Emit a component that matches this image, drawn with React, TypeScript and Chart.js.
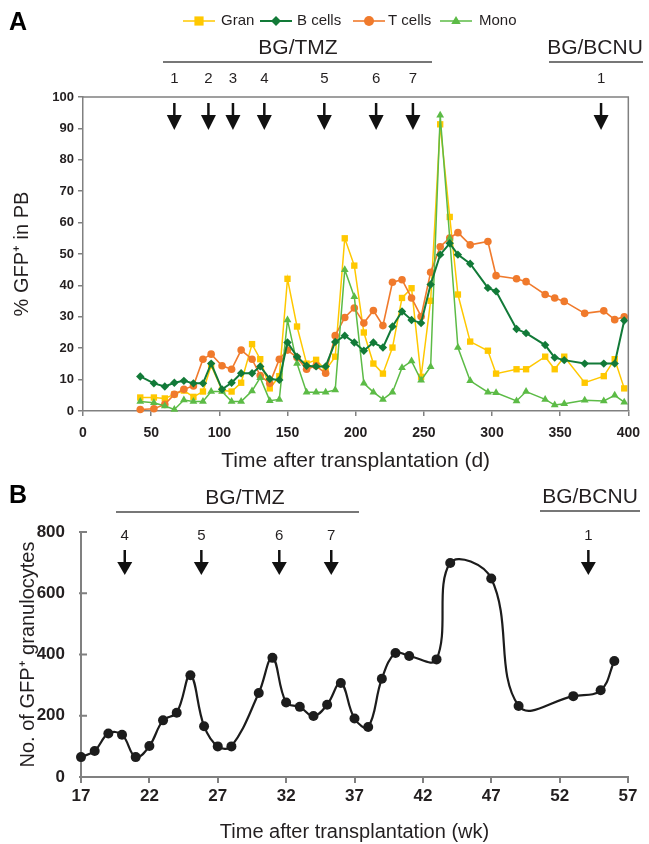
import React, { useEffect, useRef } from 'react';
import { Chart, registerables } from 'chart.js';

Chart.register(...registerables);

const FONT = '"Liberation Sans", Arial, Helvetica, sans-serif';
const TEXT = '#231f20';
const AXIS = '#808080';

// ---------- Panel A data ----------
const days = [42, 52, 60, 67, 74, 81, 88, 94, 102, 109, 116, 124, 130, 137, 144, 150, 157, 164, 171, 178, 185, 192, 199, 206, 213, 220, 227, 234, 241, 248, 255, 262, 269, 275, 284, 297, 303, 318, 325, 339, 346, 353, 368, 382, 390, 397];
const gran = [4.3, 4.3, 4.0, 5.3, 6.5, 4.5, 6.2, 14.5, 6.6, 6.2, 9.0, 21.3, 16.5, 7.2, 11.1, 42.1, 26.9, 15.1, 16.3, 13.0, 17.3, 55.0, 46.3, 25.0, 15.1, 11.9, 20.2, 36.0, 39.1, 10.9, 35.1, 91.3, 61.8, 37.1, 22.1, 19.2, 11.9, 13.3, 13.3, 17.3, 13.3, 17.3, 9.0, 11.1, 16.5, 7.2];
const bCells = [11.0, 8.8, 7.8, 9.0, 9.6, 8.8, 8.8, 15.1, 6.9, 9.0, 12.0, 12.0, 14.2, 10.2, 9.9, 21.8, 17.3, 14.4, 14.2, 14.2, 22.0, 24.0, 21.8, 19.2, 21.8, 20.2, 26.9, 31.7, 29.0, 28.0, 40.3, 49.8, 53.4, 49.8, 46.9, 39.2, 38.1, 26.1, 24.8, 21.0, 17.0, 16.2, 15.1, 15.1, 15.1, 28.8];
const tCells = [0.5, 0.7, 2.1, 5.3, 6.9, 8.0, 16.5, 18.1, 14.4, 13.3, 19.4, 16.5, 11.3, 8.8, 16.5, 19.4, 17.0, 13.3, 14.4, 12.0, 24.0, 29.8, 32.8, 28.0, 32.0, 27.2, 41.0, 41.8, 36.0, 30.1, 44.2, 52.3, 55.1, 56.8, 52.9, 54.0, 43.1, 42.1, 41.2, 37.1, 36.0, 34.9, 31.1, 31.9, 29.1, 30.0];
const mono = [3.0, 2.6, 1.6, 0.5, 3.5, 3.0, 3.0, 6.2, 6.2, 3.0, 3.0, 6.4, 10.6, 3.3, 3.7, 29.0, 15.1, 6.0, 6.0, 6.0, 6.7, 45.0, 36.4, 8.8, 6.0, 3.7, 6.0, 13.8, 15.9, 9.8, 14.1, 94.2, 55.0, 20.2, 9.6, 6.0, 5.8, 3.2, 6.2, 3.7, 1.9, 2.3, 3.4, 3.2, 5.0, 2.8];
const dayTicks = [0, 50, 100, 150, 200, 250, 300, 350, 400];
const pctTicks = [0, 10, 20, 30, 40, 50, 60, 70, 80, 90, 100];
const tmzDays = [67, 92, 110, 133, 177, 215, 242];
const tmzDayLabels = ['1', '2', '3', '4', '5', '6', '7'];
const bcnuDays = [380];
const bcnuDayLabels = ['1'];

// ---------- Panel B data ----------
const weeks = [17, 18, 19, 20, 21, 22, 23, 24, 25, 26, 27, 28, 30, 31, 32, 33, 34, 35, 36, 37, 38, 39, 40, 41, 43, 44, 47, 49, 53, 55, 56];
const granCounts = [65, 85, 142, 138, 65, 101, 185, 210, 332, 166, 100, 100, 274, 389, 243, 229, 199, 236, 307, 191, 163, 321, 405, 395, 384, 699, 648, 232, 264, 283, 379];
const weekTicks = [17, 22, 27, 32, 37, 42, 47, 52, 57];
const countTicks = [0, 200, 400, 600, 800];
const tmzWeeks = [20.2, 25.8, 31.5, 35.3];
const tmzWeekLabels = ['4', '5', '6', '7'];
const bcnuWeeks = [54.1];
const bcnuWeekLabels = ['1'];

const series = [
  { label: 'Gran', data: gran, color: '#FFC800', style: 'rect', r: 4.5, w: 1.5, order: 3 },
  { label: 'B cells', data: bCells, color: '#127A38', style: 'rectRot', r: 4.2, w: 2, order: 0 },
  { label: 'T cells', data: tCells, color: '#F07A2C', style: 'circle', r: 3.8, w: 1.6, order: 2 },
  { label: 'Mono', data: mono, color: '#5CBB46', style: 'triangle', r: 4.5, w: 1.5, order: 1 },
];
const legendMarkerX = [199, 276, 369, 456];
const legendTextX = [221, 297, 388, 479];

function drawMarker(ctx: CanvasRenderingContext2D, style: string, x: number, y: number, r: number) {
  ctx.beginPath();
  if (style === 'rect') {
    const s = r * Math.SQRT1_2;
    ctx.rect(x - s, y - s, 2 * s, 2 * s);
  } else if (style === 'rectRot') {
    ctx.moveTo(x, y - r);
    ctx.lineTo(x + r, y);
    ctx.lineTo(x, y + r);
    ctx.lineTo(x - r, y);
    ctx.closePath();
  } else if (style === 'triangle') {
    ctx.moveTo(x, y - r);
    ctx.lineTo(x + r * 0.95, y + r * 0.6);
    ctx.lineTo(x - r * 0.95, y + r * 0.6);
    ctx.closePath();
  } else {
    ctx.arc(x, y, r, 0, Math.PI * 2);
  }
  ctx.fill();
}

function drawArrow(ctx: CanvasRenderingContext2D, x: number, yTop: number, yHead: number, yBottom: number, halfW: number) {
  ctx.strokeStyle = '#111';
  ctx.fillStyle = '#111';
  ctx.lineWidth = 2.5;
  ctx.beginPath();
  ctx.moveTo(x, yTop);
  ctx.lineTo(x, yHead + 1);
  ctx.stroke();
  ctx.beginPath();
  ctx.moveTo(x - halfW, yHead);
  ctx.lineTo(x + halfW, yHead);
  ctx.lineTo(x, yBottom);
  ctx.closePath();
  ctx.fill();
}

const annotA = {
  id: 'annotA',
  afterDraw(chart: any) {
    const { ctx, chartArea: ca, scales } = chart;
    const xs = scales.x;
    ctx.save();
    // frame (top and right)
    ctx.strokeStyle = AXIS;
    ctx.lineWidth = 1.5;
    ctx.beginPath();
    ctx.moveTo(ca.left, ca.top);
    ctx.lineTo(ca.right, ca.top);
    ctx.lineTo(ca.right, ca.bottom);
    ctx.stroke();
    // panel letter
    ctx.fillStyle = '#000';
    ctx.font = `bold 25px ${FONT}`;
    ctx.textAlign = 'left';
    ctx.textBaseline = 'middle';
    ctx.fillText('A', 9, 23);
    // legend
    ctx.font = `15px ${FONT}`;
    series.forEach((s, i) => {
      const mx = legendMarkerX[i];
      ctx.strokeStyle = s.color;
      ctx.lineWidth = s.w;
      ctx.beginPath();
      ctx.moveTo(mx - 16, 21);
      ctx.lineTo(mx + 16, 21);
      ctx.stroke();
      ctx.fillStyle = s.color;
      drawMarker(ctx, s.style, mx, 21, s.style === 'rect' ? 6.5 : 5);
      ctx.fillStyle = TEXT;
      ctx.fillText(s.label, legendTextX[i], 21);
    });
    // treatment groups
    ctx.fillStyle = TEXT;
    ctx.font = `21px ${FONT}`;
    ctx.textAlign = 'center';
    ctx.fillText('BG/TMZ', 298, 48);
    ctx.fillText('BG/BCNU', 595, 48);
    ctx.strokeStyle = '#777';
    ctx.lineWidth = 2;
    ctx.beginPath();
    ctx.moveTo(163, 62);
    ctx.lineTo(432, 62);
    ctx.moveTo(549, 62);
    ctx.lineTo(643, 62);
    ctx.stroke();
    ctx.font = `15px ${FONT}`;
    const all = tmzDays.map((d, i) => [d, tmzDayLabels[i]] as [number, string])
      .concat(bcnuDays.map((d, i) => [d, bcnuDayLabels[i]] as [number, string]));
    all.forEach(([d, lab]) => {
      const px = xs.getPixelForValue(d);
      ctx.fillStyle = TEXT;
      ctx.fillText(lab, px, 79);
      drawArrow(ctx, px, 103, 115, 130, 7.5);
    });
    ctx.restore();
  },
};

const annotB = {
  id: 'annotB',
  afterDraw(chart: any) {
    const { ctx, chartArea: ca, scales } = chart;
    const xs = scales.x;
    const ys = scales.y;
    ctx.save();
    // inside y ticks
    ctx.strokeStyle = AXIS;
    ctx.lineWidth = 2;
    ctx.beginPath();
    countTicks.forEach((v) => {
      const py = ys.getPixelForValue(v);
      ctx.moveTo(ca.left - 2, py);
      ctx.lineTo(ca.left + 6, py);
    });
    ctx.stroke();
    ctx.fillStyle = '#000';
    ctx.font = `bold 25px ${FONT}`;
    ctx.textAlign = 'left';
    ctx.textBaseline = 'middle';
    ctx.fillText('B', 9, 21);
    ctx.fillStyle = TEXT;
    ctx.font = `21px ${FONT}`;
    ctx.textAlign = 'center';
    ctx.fillText('BG/TMZ', 245, 23);
    ctx.fillText('BG/BCNU', 590, 22);
    ctx.strokeStyle = '#777';
    ctx.lineWidth = 2;
    ctx.beginPath();
    ctx.moveTo(116, 37);
    ctx.lineTo(359, 37);
    ctx.moveTo(540, 36);
    ctx.lineTo(640, 36);
    ctx.stroke();
    ctx.font = `15px ${FONT}`;
    const all = tmzWeeks.map((w, i) => [w, tmzWeekLabels[i]] as [number, string])
      .concat(bcnuWeeks.map((w, i) => [w, bcnuWeekLabels[i]] as [number, string]));
    all.forEach(([w, lab]) => {
      const px = xs.getPixelForValue(w);
      ctx.fillStyle = TEXT;
      ctx.fillText(lab, px, 61);
      drawArrow(ctx, px, 75, 87, 100, 7.5);
    });
    ctx.restore();
  },
};

export default function App() {
  const refA = useRef<HTMLCanvasElement>(null);
  const refB = useRef<HTMLCanvasElement>(null);

  useEffect(() => {
    const chartA = new Chart(refA.current as HTMLCanvasElement, {
      type: 'line',
      data: {
        datasets: series.map((s) => ({
          label: s.label,
          data: days.map((d, i) => ({ x: d, y: s.data[i] })),
          borderColor: s.color,
          backgroundColor: s.color,
          borderWidth: s.w,
          pointStyle: s.style as any,
          pointRadius: s.r,
          pointBorderWidth: 0,
          pointBackgroundColor: s.color,
          tension: 0,
          order: s.order,
          clip: false as any,
        })),
      },
      options: {
        responsive: false,
        maintainAspectRatio: false,
        animation: false,
        layout: { padding: { left: 0, top: 97, right: 18, bottom: 1 } },
        plugins: { legend: { display: false }, tooltip: { enabled: false } },
        scales: {
          x: {
            type: 'linear',
            min: 0,
            max: 400,
            afterBuildTicks: (sc: any) => { sc.ticks = dayTicks.map((v) => ({ value: v })); },
            afterFit: (sc: any) => { sc.height = 63; },
            grid: { display: true, drawOnChartArea: false, drawTicks: true, tickLength: 5, color: AXIS, lineWidth: 1.5 },
            border: { display: true, color: AXIS, width: 1.5 },
            ticks: { font: { family: FONT, size: 14, weight: 'bold' }, color: TEXT, padding: 9, maxRotation: 0 },
            title: { display: true, text: 'Time after transplantation (d)', font: { family: FONT, size: 21 }, color: TEXT, padding: { top: 0, bottom: 0 } },
          },
          y: {
            type: 'linear',
            min: 0,
            max: 100,
            afterBuildTicks: (sc: any) => { sc.ticks = pctTicks.map((v) => ({ value: v })); },
            afterFit: (sc: any) => { sc.width = 83; },
            grid: { display: true, drawOnChartArea: false, drawTicks: true, tickLength: 5, color: AXIS, lineWidth: 1.5 },
            border: { display: true, color: AXIS, width: 1.5 },
            ticks: { font: { family: FONT, size: 13, weight: 'bold' }, color: TEXT, padding: 4 },
            title: { display: true, text: '% GFP⁺ in PB', font: { family: FONT, size: 20 }, color: TEXT, padding: { top: 10, bottom: 0 } },
          },
        },
      },
      plugins: [annotA],
    } as any);

    const chartB = new Chart(refB.current as HTMLCanvasElement, {
      type: 'line',
      data: {
        datasets: [
          {
            label: 'GFP+ granulocytes',
            data: weeks.map((w, i) => ({ x: w, y: granCounts[i] })),
            borderColor: '#1c1c1c',
            backgroundColor: '#1c1c1c',
            borderWidth: 2.2,
            pointRadius: 5,
            pointBorderWidth: 0,
            pointBackgroundColor: '#1c1c1c',
            tension: 0.4,
            clip: false as any,
          },
        ],
      },
      options: {
        responsive: false,
        maintainAspectRatio: false,
        animation: false,
        layout: { padding: { left: 0, top: 57, right: 21, bottom: 0 } },
        plugins: { legend: { display: false }, tooltip: { enabled: false } },
        scales: {
          x: {
            type: 'linear',
            min: 17,
            max: 57,
            afterBuildTicks: (sc: any) => { sc.ticks = weekTicks.map((v) => ({ value: v })); },
            afterFit: (sc: any) => { sc.height = 67; },
            grid: { display: true, drawOnChartArea: false, drawTicks: true, tickLength: 6, color: AXIS, lineWidth: 2 },
            border: { display: true, color: AXIS, width: 2 },
            ticks: { font: { family: FONT, size: 17, weight: 'bold' }, color: TEXT, padding: 3, maxRotation: 0 },
            title: { display: true, text: 'Time after transplantation (wk)', font: { family: FONT, size: 20 }, color: TEXT, padding: { top: 0, bottom: 0 } },
          },
          y: {
            type: 'linear',
            min: 0,
            max: 800,
            afterBuildTicks: (sc: any) => { sc.ticks = countTicks.map((v) => ({ value: v })); },
            afterFit: (sc: any) => { sc.width = 81; },
            grid: { display: false },
            border: { display: true, color: AXIS, width: 2 },
            ticks: { font: { family: FONT, size: 17, weight: 'bold' }, color: TEXT, padding: 8 },
            title: { display: true, text: 'No. of GFP⁺ granulocytes', font: { family: FONT, size: 20 }, color: TEXT, padding: { top: 16, bottom: 0 } },
          },
        },
      },
      plugins: [annotB],
    } as any);

    return () => {
      chartA.destroy();
      chartB.destroy();
    };
  }, []);

  return (
    <div style={{ position: 'absolute', left: 0, top: 0, width: 649, height: 844, background: '#fff' }}>
      <canvas ref={refA} width={649} height={475} style={{ position: 'absolute', left: 0, top: 0, width: 649, height: 475 }} />
      <canvas ref={refB} width={649} height={369} style={{ position: 'absolute', left: 0, top: 475, width: 649, height: 369 }} />
    </div>
  );
}
